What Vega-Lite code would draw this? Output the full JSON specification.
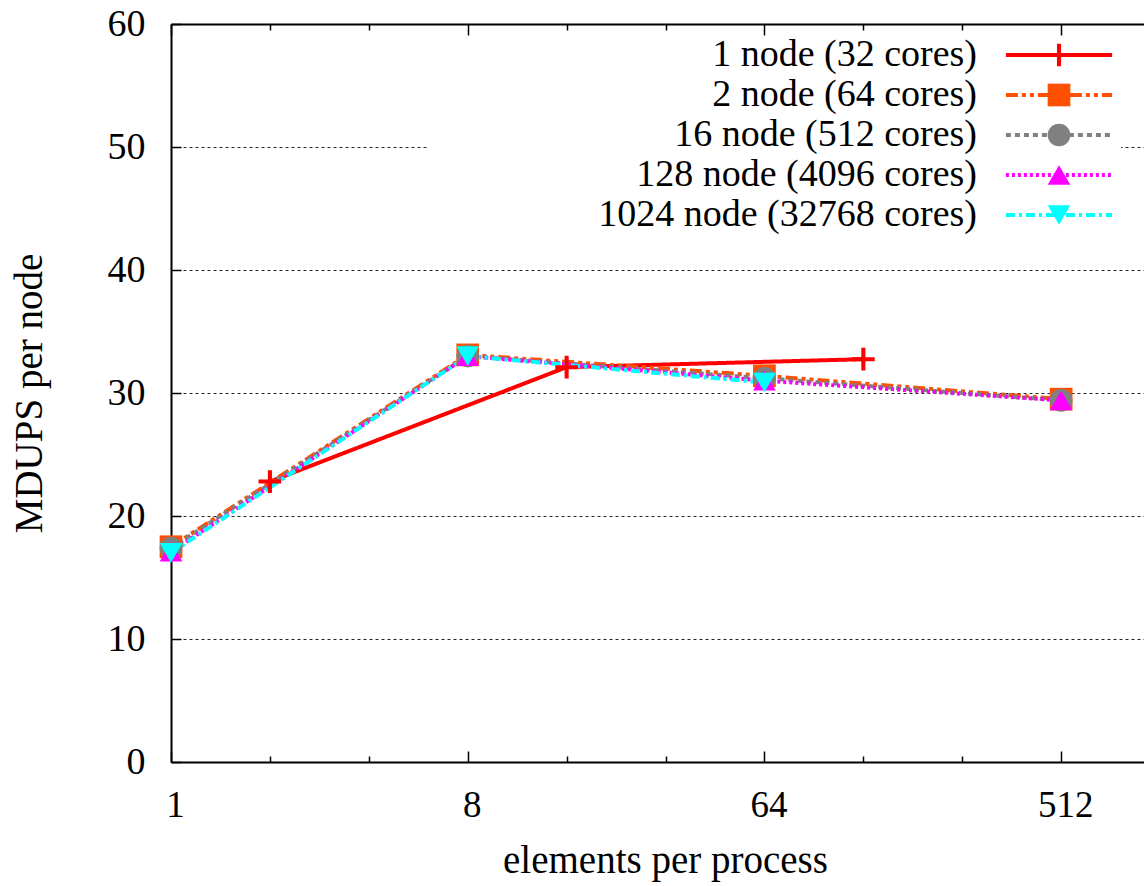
{
  "$schema": "https://vega.github.io/schema/vega-lite/v6.json",
  "width": 973,
  "height": 738,
  "autosize": {"type": "none"},
  "padding": {"left": 171, "top": 24, "right": 0, "bottom": 124},
  "background": "white",
  "config": {
    "view": {"stroke": null},
    "font": "Liberation Serif",
    "axis": {"labelFont": "Liberation Serif", "titleFont": "Liberation Serif", "labelColor": "black", "titleColor": "black", "titleFontWeight": "normal"},
    "legend": {"labelFont": "Liberation Serif", "labelColor": "black"}
  },
  "data": {
    "values": [
      {"series": "1 node (32 cores)", "elements": 2, "mdups": 22.8},
      {"series": "1 node (32 cores)", "elements": 16, "mdups": 32.1},
      {"series": "1 node (32 cores)", "elements": 128, "mdups": 32.75},
      {"series": "2 node (64 cores)", "elements": 1, "mdups": 17.5},
      {"series": "2 node (64 cores)", "elements": 8, "mdups": 33.1},
      {"series": "2 node (64 cores)", "elements": 64, "mdups": 31.4},
      {"series": "2 node (64 cores)", "elements": 512, "mdups": 29.5},
      {"series": "16 node (512 cores)", "elements": 1, "mdups": 17.4},
      {"series": "16 node (512 cores)", "elements": 8, "mdups": 33.0},
      {"series": "16 node (512 cores)", "elements": 64, "mdups": 31.2},
      {"series": "16 node (512 cores)", "elements": 512, "mdups": 29.4},
      {"series": "128 node (4096 cores)", "elements": 1, "mdups": 17.1},
      {"series": "128 node (4096 cores)", "elements": 8, "mdups": 33.0},
      {"series": "128 node (4096 cores)", "elements": 64, "mdups": 31.0},
      {"series": "128 node (4096 cores)", "elements": 512, "mdups": 29.4},
      {"series": "1024 node (32768 cores)", "elements": 1, "mdups": 17.0},
      {"series": "1024 node (32768 cores)", "elements": 8, "mdups": 33.0},
      {"series": "1024 node (32768 cores)", "elements": 64, "mdups": 30.85}
    ]
  },
  "resolve": {"axis": {"x": "independent"}},
  "encoding": {
    "y": {
      "field": "mdups", "type": "quantitative",
      "scale": {"domain": [0, 60], "nice": false, "zero": true},
      "axis": {
        "orient": "left",
        "values": [0, 10, 20, 30, 40, 50, 60],
        "labelFontSize": 38,
        "labelPadding": 36,
        "tickSize": -10,
        "tickColor": "black",
        "tickWidth": 1.5,
        "domainColor": "black",
        "domainWidth": 2,
        "grid": true,
        "gridColor": "black",
        "gridDash": [3, 3],
        "gridWidth": 1,
        "gridOpacity": 0.85,
        "title": "MDUPS per node",
        "titleFontSize": 39,
        "titlePadding": 58
      }
    }
  },
  "layer": [
    {
      "mark": {"type": "line", "strokeWidth": 4, "clip": false},
      "encoding": {
        "x": {
          "field": "elements", "type": "quantitative",
          "scale": {"type": "log", "base": 2, "domain": [1, 915], "nice": false},
          "axis": {
            "orient": "bottom",
            "values": [1, 2, 4, 8, 16, 32, 64, 128, 256, 512],
            "labelExpr": "indexof([1,8,64,512], datum.value) >= 0 ? '' + datum.value : ''",
            "labelOverlap": false,
            "labelFlush": false,
            "labelFontSize": 37,
            "labelPadding": 36,
            "labelOffset": 4,
            "tickSize": {"condition": {"test": "indexof([1,8,64,512], datum.value) >= 0", "value": -11}, "value": -6},
            "tickColor": "black",
            "tickWidth": 1.5,
            "domainColor": "black",
            "domainWidth": 2,
            "grid": false,
            "title": "elements per process",
            "titleFontSize": 39,
            "titlePadding": 13,
            "titleX": 494
          }
        },
        "color": {
          "field": "series", "type": "nominal",
          "scale": {
            "domain": ["1 node (32 cores)", "2 node (64 cores)", "16 node (512 cores)", "128 node (4096 cores)", "1024 node (32768 cores)"],
            "range": ["#ff0000", "#ff4f00", "#808080", "#ff00ff", "#00ffff"]
          },
          "legend": {
            "orient": "none", "legendX": 257, "legendY": 12, "title": null,
            "symbolType": "M-5.9,0H5.9", "symbolSize": 324, "symbolStrokeWidth": 4, "symbolOffset": 612,
            "labelAlign": "right", "labelOffset": -101, "labelFontSize": 38, "labelLimit": 1000,
            "rowPadding": 2, "padding": 0, "fillColor": "white"
          }
        },
        "strokeDash": {
          "field": "series", "type": "nominal",
          "scale": {
            "domain": ["1 node (32 cores)", "2 node (64 cores)", "16 node (512 cores)", "128 node (4096 cores)", "1024 node (32768 cores)"],
            "range": [[1, 0], [12, 4, 4, 4, 4, 4], [5, 4], [3, 3], [9, 4, 3, 4]]
          },
          "legend": {
            "orient": "none", "legendX": 257, "legendY": 12, "title": null,
            "symbolType": "M-5.9,0H5.9", "symbolSize": 324, "symbolStrokeWidth": 4, "symbolOffset": 612,
            "labelAlign": "right", "labelOffset": -101, "labelFontSize": 38, "labelLimit": 1000,
            "rowPadding": 2, "padding": 0, "fillColor": "white"
          }
        }
      }
    },
    {
      "mark": {"type": "point", "filled": true, "strokeWidth": 0, "size": 515, "opacity": 1, "clip": false},
      "encoding": {
        "x": {
          "field": "elements", "type": "quantitative",
          "axis": {
            "orient": "top",
            "values": [1, 2, 4, 8, 16, 32, 64, 128, 256, 512],
            "labels": false,
            "tickSize": {"condition": {"test": "indexof([1,8,64,512], datum.value) >= 0", "value": -11}, "value": -6},
            "tickColor": "black",
            "tickWidth": 1.5,
            "domainColor": "black",
            "domainWidth": 2,
            "grid": false,
            "title": null
          }
        },
        "fill": {
          "field": "series", "type": "nominal",
          "scale": {
            "domain": ["1 node (32 cores)", "2 node (64 cores)", "16 node (512 cores)", "128 node (4096 cores)", "1024 node (32768 cores)", "-"],
            "range": ["#ff0000", "#ff4f00", "#808080", "#ff00ff", "#00ffff", "#000000"]
          },
          "legend": {
            "orient": "none", "legendX": 257, "legendY": 12, "title": null,
            "values": ["1 node (32 cores)", "2 node (64 cores)", "16 node (512 cores)", "128 node (4096 cores)", "1024 node (32768 cores)"],
            "symbolSize": 515, "symbolStrokeWidth": 0, "symbolOffset": 612, "symbolOpacity": 1,
            "labelFontSize": 38, "labelExpr": "''", "rowPadding": 2, "padding": 0
          }
        },
        "shape": {
          "field": "series", "type": "nominal",
          "scale": {
            "domain": ["1 node (32 cores)", "2 node (64 cores)", "16 node (512 cores)", "128 node (4096 cores)", "1024 node (32768 cores)", "-"],
            "range": ["M-1,-0.18H-0.18V-1H0.18V-0.18H1V0.18H0.18V1H-0.18V0.18H-1Z", "square", "circle", "triangle-up", "triangle-down", "circle"]
          },
          "legend": {
            "orient": "none", "legendX": 257, "legendY": 12, "title": null,
            "values": ["1 node (32 cores)", "2 node (64 cores)", "16 node (512 cores)", "128 node (4096 cores)", "1024 node (32768 cores)"],
            "symbolSize": 515, "symbolStrokeWidth": 0, "symbolOffset": 612, "symbolOpacity": 1,
            "labelFontSize": 38, "labelExpr": "''", "rowPadding": 2, "padding": 0
          }
        }
      }
    }
  ]
}
